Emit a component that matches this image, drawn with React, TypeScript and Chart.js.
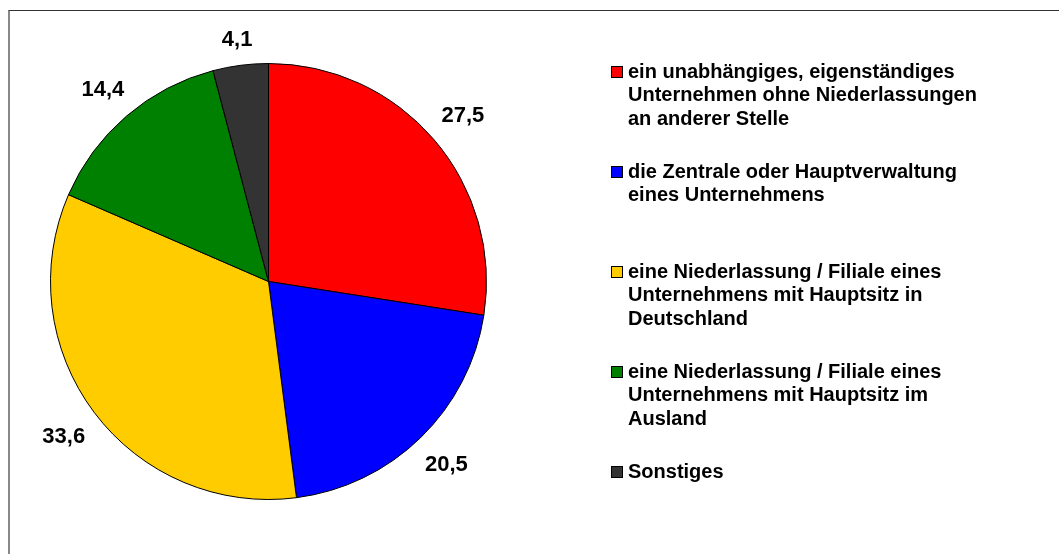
import React, { useEffect, useRef } from "react";
import { Chart, registerables } from "chart.js";

Chart.register(...registerables);

const categories: string[] = [
  "ein unabhängiges, eigenständiges\nUnternehmen ohne Niederlassungen\nan anderer Stelle",
  "die Zentrale oder Hauptverwaltung\neines Unternehmens",
  "eine Niederlassung / Filiale eines\nUnternehmens mit Hauptsitz in\nDeutschland",
  "eine Niederlassung / Filiale eines\nUnternehmens mit Hauptsitz im\nAusland",
  "Sonstiges",
];
const values: number[] = [27.5, 20.5, 33.6, 14.4, 4.1];
const valueLabels: string[] = ["27,5", "20,5", "33,6", "14,4", "4,1"];
const colors: string[] = ["#FF0000", "#0000FF", "#FFCC00", "#008000", "#333333"];

const FONT = "Liberation Sans, Arial, sans-serif";

const labelPlugin = {
  id: "outerLabels",
  afterDatasetsDraw(chart: any) {
    const ctx = chart.ctx;
    const meta = chart.getDatasetMeta(0);
    ctx.save();
    ctx.font = `bold 22px ${FONT}`;
    ctx.fillStyle = "#000";
    ctx.textAlign = "center";
    ctx.textBaseline = "middle";
    meta.data.forEach((arc: any, i: number) => {
      const p = arc.getProps(["x", "y", "startAngle", "endAngle", "outerRadius"], true);
      const mid = (p.startAngle + p.endAngle) / 2;
      const c = Math.cos(mid);
      const s = Math.sin(mid);
      const txt = valueLabels[i];
      const w = ctx.measureText(txt).width;
      const h = 17;
      const ext = Math.abs(c) * w / 2 + Math.abs(s) * h / 2;
      const d = p.outerRadius + 16 + ext;
      ctx.fillText(txt, p.x + c * d, p.y + s * d + 1);
    });
    ctx.restore();
  },
};

const legendPlugin = {
  id: "customLegend",
  afterDraw(chart: any) {
    const ctx = chart.ctx;
    const labels: string[] = chart.data.labels;
    const bg: string[] = chart.data.datasets[0].backgroundColor;
    ctx.save();
    ctx.font = `bold 20px ${FONT}`;
    ctx.textAlign = "left";
    ctx.textBaseline = "middle";
    const x0 = 611;
    const tx = 628;
    let y0 = 72;
    labels.forEach((lab: string, i: number) => {
      ctx.fillStyle = bg[i];
      ctx.fillRect(x0, y0 - 6, 12, 12);
      ctx.strokeStyle = "#000";
      ctx.lineWidth = 1;
      ctx.strokeRect(x0 + 0.5, y0 - 5.5, 11, 11);
      ctx.fillStyle = "#000";
      lab.split("\n").forEach((line, j) => {
        ctx.fillText(line, tx, y0 + j * 23.5);
      });
      y0 += 100;
    });
    ctx.restore();
  },
};

export default function App() {
  const ref = useRef<HTMLCanvasElement | null>(null);
  useEffect(() => {
    if (!ref.current) return;
    const chart = new Chart(ref.current, {
      type: "pie",
      data: {
        labels: categories,
        datasets: [
          {
            data: values,
            backgroundColor: colors,
            borderColor: "#000000",
            borderWidth: 1,
          },
        ],
      },
      options: {
        animation: false,
        responsive: false,
        maintainAspectRatio: false,
        layout: { padding: { left: 50, right: 572, top: 63, bottom: 54 } },
        plugins: {
          legend: { display: false },
          tooltip: { enabled: false },
        },
      },
      plugins: [labelPlugin, legendPlugin],
    });
    return () => chart.destroy();
  }, []);
  return (
    <div style={{ position: "fixed", left: 0, top: 0, width: 1059, height: 554, background: "#fff" }}>
      <div
        style={{
          position: "absolute",
          left: 8,
          top: 10,
          width: 1059,
          height: 554,
          borderTop: "1px solid #333",
          borderLeft: "2px solid #888",
        }}
      />
      <canvas ref={ref} width={1059} height={554} style={{ position: "absolute", left: 0, top: 0 }} />
    </div>
  );
}
